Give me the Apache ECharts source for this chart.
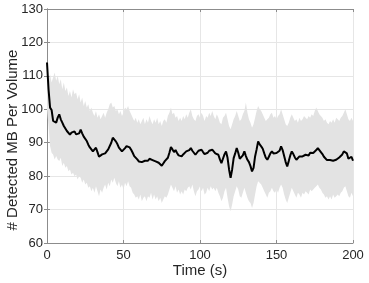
<!DOCTYPE html>
<html>
<head>
<meta charset="utf-8">
<script src="https://cdn.jsdelivr.net/npm/echarts@6/dist/echarts.min.js"></script>
<style>html,body{margin:0;padding:0;background:#fff;}#c{width:369px;height:283px;}</style>
</head>
<body>
<div id="c"></div>
<script>
const xTicks = [0, 50, 100, 150, 200];
const yTicks = [60, 70, 80, 90, 100, 110, 120, 130];
const meanVals = [
114, 106, 100.5, 99.8, 96.5, 97, 96, 97.5, 98.5, 97,
96, 95, 94.8, 93.5, 93, 92.4, 93, 92.5, 93.4, 92.5,
92, 92.8, 93.9, 92.8, 91.8, 91.5, 90.5, 89.4, 88.6, 88,
87.4, 87.8, 88.5, 87.2, 85.8, 85.5, 86.5, 87, 86.8, 87.4,
88, 88.5, 90, 91.5, 91, 90.4, 89.6, 88.5, 88.8, 87.4,
87.6, 88.4, 89, 89.4, 88.6, 87.9, 87, 86, 85.5, 85,
84.4, 84.8, 84.2, 84.3, 84.6, 84.1, 84.6, 85.2, 85.5, 84.8,
85.2, 84.4, 84.9, 84, 83.6, 83.1, 83.8, 84.5, 84.4, 85.5,
87, 88.7, 88, 87.2, 87.8, 86.9, 86.2, 86.6, 85.9, 86.5,
87, 87.4, 87, 87.8, 88.4, 87.6, 87, 86.4, 86.8, 87.6,
87.4, 87.9, 87.2, 86.6, 86.4, 87, 87.6, 87.2, 87.9, 87.4,
86.8, 87, 86.4, 85, 83.9, 85.2, 86.5, 87.4, 85.5, 82,
79.5, 82, 85.4, 86.8, 88.4, 87, 85.2, 84.9, 86.2, 87.4,
86, 84.9, 84.2, 83, 81.4, 82.5, 85.9, 88, 90.4, 89.5,
88.9, 88.2, 86.8, 85.5, 84.9, 85.8, 86.8, 87.4, 86.8, 86.4,
86.9, 86.4, 87.6, 88.9, 87.8, 86, 84.2, 82.9, 84.5, 86.2,
87.4, 86.6, 85.6, 84.9, 85.4, 85.9, 85.4, 85.9, 85.8, 86.4,
86.4, 86.2, 87, 86.6, 86.9, 87.4, 87.8, 88.4, 87.8, 87.4,
86.6, 85.8, 85.4, 84.8, 84.4, 84.8, 84.4, 84.6, 84.9, 84.9,
85.4, 85.6, 85.9, 86.5, 87.4, 87.9, 86.8, 85.2, 84.9, 85.8,
84.6
];
const upperVals = [
112, 109, 110.5, 108, 109.5, 111, 108.5, 110, 107.5, 109,
106, 108, 105.5, 106.5, 104, 105.5, 103.5, 106, 104.5, 105,
103, 104.5, 102, 103.5, 101, 102.5, 100.5, 101.5, 99.5, 100.5,
99, 98, 99.5, 97.5, 98.5, 97, 98, 99, 97.5, 99,
100, 101.5, 102, 100.5, 101, 99.5, 100, 98.5, 99.5, 98,
99, 100.5, 100, 101, 99.5, 98.5, 97.5, 96.5, 97.5, 96,
97, 95.5, 96.5, 97.5, 95.5, 97, 96, 98, 96.5, 95.5,
97, 96, 97.5, 95.5, 96.5, 95, 96.5, 97, 96, 98,
99, 100.5, 98.5, 99, 97.5, 98, 96.5, 97.5, 96.5, 98,
97, 98.5, 97.5, 99, 100, 98, 97, 96.5, 98, 98.5,
97.5, 99, 98, 96.5, 98, 97.5, 99, 98, 99.5, 98,
97, 98.5, 97.5, 96, 95.5, 97.5, 98, 99, 97, 95,
94, 95.5, 97, 98, 99.5, 98, 96.5, 97, 98.5, 99.5,
102, 99, 97, 96, 94.5, 95.5, 97.5, 99.5, 101, 100,
99.5, 98.5, 97.5, 96.5, 97, 97.5, 98.5, 99, 97.5, 98,
97, 98, 98.5, 100, 98.5, 97, 95.5, 95, 96, 97.5,
98.5, 97.5, 96.5, 97, 96, 97.5, 96.5, 97, 98, 97.5,
97, 98, 97.5, 98.5, 98, 99.5, 100.5, 99.5, 98.5, 98,
97.5, 96.5, 97, 96, 95.5, 96.5, 96, 97, 96, 97.5,
97, 96.5, 97.5, 98, 99, 100, 98.5, 97, 96.5, 97.5,
96.5
];
const lowerVals = [
100, 95, 89, 87, 86.5, 85, 86, 85, 84.5, 85.5,
83, 84, 82.5, 83, 81.5, 82, 80.5, 81, 80, 80.5,
79, 80, 79.5, 78, 79, 77.5, 78, 76.5, 77, 75.5,
76.5, 75, 77, 75.5, 74, 76, 75, 76.5, 77.5, 76,
78, 77, 79, 78, 79.5, 78, 77, 78.5, 76.5, 77.5,
76, 78, 77, 78.5, 77, 76.5, 75, 74.5, 73.5, 74,
73, 74.5, 72.5, 73.5, 74, 72.5, 74, 73.5, 75, 73,
74.5, 73, 74, 72.5, 73.5, 72, 73, 74, 73.5, 74.5,
76, 77.5, 76.5, 75.5, 77, 75, 76, 74.5, 75.5, 74.5,
76, 75.5, 76.5, 77, 76, 77.5, 75.5, 74, 75.5, 76,
77, 75.5, 76.5, 74.5, 75, 76.5, 75.5, 77, 76, 76.5,
75.5, 76.5, 75, 74, 72.5, 73.5, 75.5, 76.5, 73.5, 71,
69.5, 71.5, 74, 75.5, 77, 76, 74, 73.5, 75, 76.5,
75, 73.5, 72.5, 72, 70.5, 72, 74.5, 77, 78.5, 78,
77.5, 76.5, 75.5, 74.5, 73.5, 75, 75.5, 76.5, 75.5, 75,
76, 75, 76.5, 77.5, 76.5, 74.5, 73, 72, 73.5, 75,
76.5, 75.5, 74.5, 73.5, 75, 74.5, 73.5, 75, 74.5, 75.5,
75, 74.5, 76, 75.5, 76, 76.5, 77, 77.5, 76.5, 76,
75, 74.5, 73.5, 74, 73, 74, 73, 74.5, 73.5, 74,
74.5, 74, 75, 75.5, 76.5, 77, 75.5, 74, 73.5, 75,
74
];

const times = meanVals.map((_, i) => i);
const meanData = times.map((t, i) => [t, meanVals[i]]);

const font = 'Liberation Sans, Arial, Helvetica, sans-serif';
const axisGray = '#8c8c8c';
const gridGray = '#e6e6e6';
const labelColor = '#262626';

const chart = echarts.init(document.getElementById('c'), null, {renderer: 'canvas'});
chart.setOption({
  animation: false,
  backgroundColor: '#ffffff',
  grid: {left: 47, right: 16, top: 9, bottom: 40, containLabel: false, outerBoundsMode: 'none'},
  xAxis: [{
    type: 'value', min: 0, max: 200, interval: 50,
    name: 'Time (s)', nameLocation: 'middle', nameGap: 20, nameMoveOverlap: false,
    nameTextStyle: {fontFamily: font, fontSize: 15, color: labelColor},
    axisLine: {show: true, lineStyle: {color: axisGray, width: 1}},
    axisTick: {show: true, inside: true, length: 3, lineStyle: {color: axisGray}},
    axisLabel: {fontFamily: font, fontSize: 13, color: labelColor, margin: 6},
    splitLine: {show: true, lineStyle: {color: gridGray, width: 1}}
  }, {
    type: 'value', min: 0, max: 200, interval: 50, position: 'top',
    axisLine: {show: true, lineStyle: {color: axisGray, width: 1}},
    axisTick: {show: true, inside: true, length: 3, lineStyle: {color: axisGray}},
    axisLabel: {show: false}, splitLine: {show: false}
  }],
  yAxis: [{
    type: 'value', min: 60, max: 130, interval: 10,
    name: '# Detected MB Per Volume', nameLocation: 'middle', nameGap: 27, nameRotate: 90, nameMoveOverlap: false,
    nameTextStyle: {fontFamily: font, fontSize: 15, color: labelColor, padding: [0, 28, 0, 0]},
    axisLine: {show: true, lineStyle: {color: axisGray, width: 1}},
    axisTick: {show: true, inside: true, length: 3, lineStyle: {color: axisGray}},
    axisLabel: {fontFamily: font, fontSize: 13, color: labelColor, margin: 4},
    splitLine: {show: true, lineStyle: {color: gridGray, width: 1}}
  }, {
    type: 'value', min: 60, max: 130, interval: 10, position: 'right',
    axisLine: {show: true, lineStyle: {color: axisGray, width: 1}},
    axisTick: {show: true, inside: true, length: 3, lineStyle: {color: axisGray}},
    axisLabel: {show: false}, splitLine: {show: false}
  }],
  series: [{
    type: 'custom', silent: true, z: 1,
    data: [0],
    renderItem: function (params, api) {
      const pts = [];
      for (let i = 0; i < times.length; i++) pts.push(api.coord([times[i], upperVals[i]]));
      for (let i = times.length - 1; i >= 0; i--) pts.push(api.coord([times[i], lowerVals[i]]));
      return {type: 'polygon', shape: {points: pts}, style: {fill: '#e3e3e3'}};
    }
  }, {
    type: 'line', data: meanData, symbol: 'none',
    lineStyle: {color: '#000000', width: 2}, z: 3
  }]
});
</script>
</body>
</html>
